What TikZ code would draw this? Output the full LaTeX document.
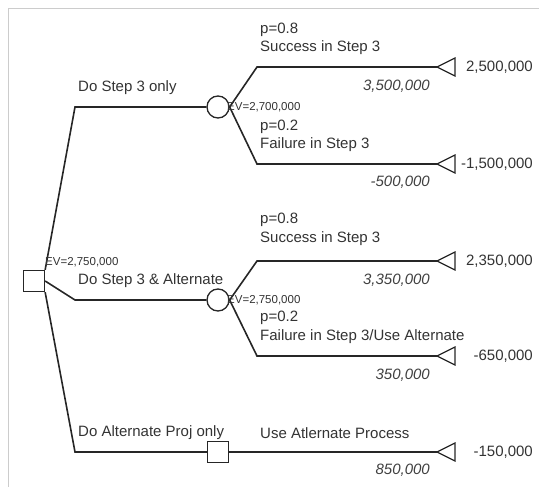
\documentclass[tikz,border=0pt]{standalone}
\usepackage{fontspec}
\setmainfont{Liberation Sans}
\usetikzlibrary{positioning}
\newcommand{\payoff}[1]{\draw[branch, line width=1.2pt] (#1) -- ++(18,-9) -- ++(0,18) -- cycle;}

\begin{document}
\begin{tikzpicture}[x=1pt, y=-1pt,
    branch/.style={line width=1.6pt, draw=black!85},
    lbl/.style={anchor=west, inner sep=0pt, text=black!80, font=\fontsize{15}{17}\selectfont},
    pay/.style={anchor=east, inner sep=0pt, text=black!80, font=\fontsize{15}{17}\selectfont},
    ev/.style={anchor=west, inner sep=0pt, text=black!80, font=\fontsize{11.5}{12}\selectfont},
    val/.style={anchor=east, inner sep=0pt, text=black!75, font=\fontsize{15}{17}\selectfont\itshape},
    choice/.style={draw=black!85, fill=white, line width=1.3pt, minimum size=21pt, inner sep=0pt},
    chance/.style={draw=black!85, fill=white, circle, line width=1.3pt, minimum size=22pt, inner sep=0pt}]
    \useasboundingbox (0,0) rectangle (539,487);
    \draw[black!20, line width=1pt] (8,487) -- (8,9) -- (539,9);

    % decision and chance nodes
    \node[choice] (root) at (34,281) {};
    \node[chance] (c1) at (218,107) {};
    \node[chance] (c2) at (218,300) {};
    \node[choice] (alt) at (218,452) {};

    % end points
    \coordinate (t1) at (437,67);
    \coordinate (t2) at (437,164);
    \coordinate (t3) at (437,261);
    \coordinate (t4) at (437,356);
    \coordinate (t5) at (437,452);

    % branches
    \draw[branch] (root.north east) -- (75,107) -- (c1);
    \draw[branch] (root.east) -- (75,300) -- (c2);
    \draw[branch] (root.south east) -- (75,452) -- (alt);
    \draw[branch] (c1.east) -- (257,67) -- (t1);
    \draw[branch] (c1.east) -- (257,164) -- (t2);
    \draw[branch] (c2.east) -- (257,261) -- (t3);
    \draw[branch] (c2.east) -- (257,356) -- (t4);
    \draw[branch] (alt) -- (t5);
    \payoff{t1} \payoff{t2} \payoff{t3} \payoff{t4} \payoff{t5}

    % labels
    \node[lbl] (d1) at (78,88) {Do Step 3 only};
    \node[lbl] (d2) at (78,281) {Do Step 3 \& Alternate};
    \node[lbl] (d3) at (78,433) {Do Alternate Proj only};
    \node[ev] (ev0) at (45,262) {EV=2,750,000};
    \node[ev] (ev1) at (227,107) {EV=2,700,000};
    \node[ev] (ev2) at (227,300) {EV=2,750,000};

    \node[lbl] (p1) at (260,30) {p=0.8};
    \node[lbl] (s1) at (260,48) {Success in Step 3};
    \node[lbl] (p2) at (260,127) {p=0.2};
    \node[lbl] (s2) at (260,145) {Failure in Step 3};
    \node[lbl] (p3) at (260,220) {p=0.8};
    \node[lbl] (s3) at (260,239) {Success in Step 3};
    \node[lbl] (p4) at (260,318) {p=0.2};
    \node[lbl] (s4) at (260,337) {Failure in Step 3/Use Alternate};
    \node[lbl] (s5) at (260,433) {Use Atlernate Process};

    \node[val] (v1) at (430,86) {3,500,000};
    \node[val] (v2) at (430,182) {-500,000};
    \node[val] (v3) at (430,280) {3,350,000};
    \node[val] (v4) at (430,375) {350,000};
    \node[val] (v5) at (430,470) {850,000};

    \node[pay] (r1) at (533,67) {2,500,000};
    \node[pay] (r2) at (533,164) {-1,500,000};
    \node[pay] (r3) at (533,261) {2,350,000};
    \node[pay] (r4) at (533,356) {-650,000};
    \node[pay] (r5) at (533,452) {-150,000};
\end{tikzpicture}
\end{document}
